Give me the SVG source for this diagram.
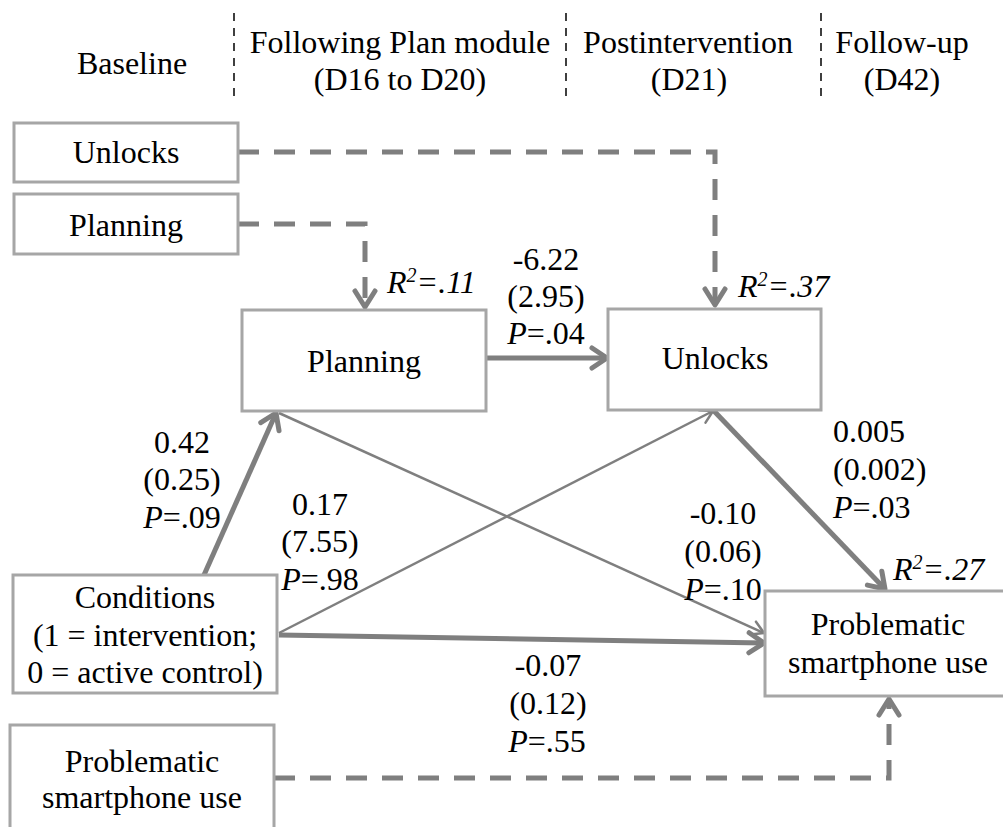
<svg xmlns="http://www.w3.org/2000/svg" width="1003" height="827" viewBox="0 0 1003 827">
  <defs>
    <marker id="ahThick" viewBox="-20 -14 24 28" markerWidth="24" markerHeight="28" refX="0" refY="0" orient="auto" markerUnits="userSpaceOnUse">
      <path d="M-15,-10 L0,0 L-15,10" fill="none" stroke="#7f7f7f" stroke-width="5" stroke-linejoin="round" stroke-linecap="round"/>
    </marker>
    <marker id="ahThin" viewBox="-16 -10 20 20" markerWidth="20" markerHeight="20" refX="0" refY="0" orient="auto" markerUnits="userSpaceOnUse">
      <path d="M-12,-7 L0,0 L-12,7" fill="none" stroke="#7f7f7f" stroke-width="2.5" stroke-linejoin="round" stroke-linecap="round"/>
    </marker>
    <marker id="ahDash" viewBox="-22 -15 26 30" markerWidth="26" markerHeight="30" refX="0" refY="0" orient="auto" markerUnits="userSpaceOnUse">
      <path d="M-16,-10 L0,0 L-16,10" fill="none" stroke="#7f7f7f" stroke-width="5" stroke-linejoin="round" stroke-linecap="round"/>
    </marker>
  </defs>

  <g id="header">
    <g stroke="#111" stroke-width="1.6" stroke-dasharray="8 7" fill="none">
      <line x1="234" y1="13" x2="234" y2="98"/>
      <line x1="566" y1="13" x2="566" y2="98"/>
      <line x1="821" y1="13" x2="821" y2="98"/>
    </g>
    <text x="132" y="74" text-anchor="middle" font-family="Liberation Serif" font-size="32">Baseline</text>
    <text x="400" y="53" text-anchor="middle" font-family="Liberation Serif" font-size="32">Following Plan module</text>
    <text x="400" y="90" text-anchor="middle" font-family="Liberation Serif" font-size="32">(D16 to D20)</text>
    <text x="688" y="53" text-anchor="middle" font-family="Liberation Serif" font-size="32">Postintervention</text>
    <text x="689" y="90" text-anchor="middle" font-family="Liberation Serif" font-size="32">(D21)</text>
    <text x="902" y="53" text-anchor="middle" font-family="Liberation Serif" font-size="32">Follow-up</text>
    <text x="902" y="90" text-anchor="middle" font-family="Liberation Serif" font-size="32">(D42)</text>
  </g>

  <g id="connectors" fill="none" stroke="#7f7f7f">
    <path stroke-width="5" stroke-dasharray="21 15" d="M238,152 H715 V305" marker-end="url(#ahDash)"/>
    <path stroke-width="5" stroke-dasharray="21 15" d="M238,224 H365 V307" marker-end="url(#ahDash)"/>
    <path stroke-width="5" stroke-dasharray="21 15" d="M274,778 H889 V699" marker-end="url(#ahDash)"/>
    <path stroke-width="5" d="M486,358 L607,358" marker-end="url(#ahThick)"/>
    <path stroke-width="5" d="M204,575 L276,413" marker-end="url(#ahThick)"/>
    <path stroke-width="2.5" d="M279,413 L764,633" marker-end="url(#ahThin)"/>
    <path stroke-width="2.5" d="M279,633 L713,411" marker-end="url(#ahThin)"/>
    <path stroke-width="5" d="M279,635 L764,643" marker-end="url(#ahThick)"/>
    <path stroke-width="5" d="M714,411 L885,589" marker-end="url(#ahThick)"/>
  </g>

  <g id="node-unlocks-baseline">
    <rect x="14" y="123" width="224" height="59" fill="#fff" stroke="#a6a6a6" stroke-width="3"/>
    <text x="126" y="163" text-anchor="middle" font-family="Liberation Serif" font-size="32">Unlocks</text>
  </g>
  <g id="node-planning-baseline">
    <rect x="14" y="194" width="224" height="60" fill="#fff" stroke="#a6a6a6" stroke-width="3"/>
    <text x="126" y="236" text-anchor="middle" font-family="Liberation Serif" font-size="32">Planning</text>
  </g>
  <g id="node-planning">
    <rect x="242" y="310" width="244" height="101" fill="#fff" stroke="#a6a6a6" stroke-width="3"/>
    <text x="364" y="372" text-anchor="middle" font-family="Liberation Serif" font-size="32">Planning</text>
  </g>
  <g id="node-unlocks">
    <rect x="608" y="309" width="213" height="101" fill="#fff" stroke="#a6a6a6" stroke-width="3"/>
    <text x="715" y="369" text-anchor="middle" font-family="Liberation Serif" font-size="32">Unlocks</text>
  </g>
  <g id="node-conditions">
    <rect x="13" y="575" width="264" height="118" fill="#fff" stroke="#a6a6a6" stroke-width="3"/>
    <text x="145" y="608" text-anchor="middle" font-family="Liberation Serif" font-size="32">Conditions</text>
    <text x="145" y="646" text-anchor="middle" font-family="Liberation Serif" font-size="32">(1 = intervention;</text>
    <text x="145" y="683" text-anchor="middle" font-family="Liberation Serif" font-size="32">0 = active control)</text>
  </g>
  <g id="node-psu-outcome">
    <rect x="765" y="591" width="246" height="105" fill="#fff" stroke="#a6a6a6" stroke-width="3"/>
    <text x="888" y="635" text-anchor="middle" font-family="Liberation Serif" font-size="32">Problematic</text>
    <text x="888" y="673" text-anchor="middle" font-family="Liberation Serif" font-size="32">smartphone use</text>
  </g>
  <g id="node-psu-baseline">
    <rect x="10" y="725" width="264" height="120" fill="#fff" stroke="#a6a6a6" stroke-width="3"/>
    <text x="142" y="772" text-anchor="middle" font-family="Liberation Serif" font-size="32">Problematic</text>
    <text x="142" y="808" text-anchor="middle" font-family="Liberation Serif" font-size="32">smartphone use</text>
  </g>

  <g id="labels">
    <text x="387" y="293" font-style="italic" font-family="Liberation Serif" font-size="32">R<tspan font-size="20" dy="-11">2</tspan><tspan dy="11">=.11</tspan></text>
    <text x="738" y="297" font-style="italic" font-family="Liberation Serif" font-size="32">R<tspan font-size="20" dy="-11">2</tspan><tspan dy="11">=.37</tspan></text>
    <text x="893" y="580" font-style="italic" font-family="Liberation Serif" font-size="32">R<tspan font-size="20" dy="-11">2</tspan><tspan dy="11">=.27</tspan></text>

    <text x="546" y="270" text-anchor="middle" font-family="Liberation Serif" font-size="32">-6.22</text>
    <text x="546" y="307" text-anchor="middle" font-family="Liberation Serif" font-size="32">(2.95)</text>
    <text x="546" y="344" text-anchor="middle" font-family="Liberation Serif" font-size="32"><tspan font-style="italic">P</tspan>=.04</text>

    <text x="182" y="453" text-anchor="middle" font-family="Liberation Serif" font-size="32">0.42</text>
    <text x="182" y="490" text-anchor="middle" font-family="Liberation Serif" font-size="32">(0.25)</text>
    <text x="182" y="528" text-anchor="middle" font-family="Liberation Serif" font-size="32"><tspan font-style="italic">P</tspan>=.09</text>

    <text x="320" y="515" text-anchor="middle" font-family="Liberation Serif" font-size="32">0.17</text>
    <text x="320" y="552" text-anchor="middle" font-family="Liberation Serif" font-size="32">(7.55)</text>
    <text x="320" y="590" text-anchor="middle" font-family="Liberation Serif" font-size="32"><tspan font-style="italic">P</tspan>=.98</text>

    <text x="833" y="442" font-family="Liberation Serif" font-size="32">0.005</text>
    <text x="833" y="480" font-family="Liberation Serif" font-size="32">(0.002)</text>
    <text x="833" y="518" font-family="Liberation Serif" font-size="32"><tspan font-style="italic">P</tspan>=.03</text>

    <text x="723" y="524" text-anchor="middle" font-family="Liberation Serif" font-size="32">-0.10</text>
    <text x="723" y="562" text-anchor="middle" font-family="Liberation Serif" font-size="32">(0.06)</text>
    <text x="723" y="600" text-anchor="middle" font-family="Liberation Serif" font-size="32"><tspan font-style="italic">P</tspan>=.10</text>

    <text x="548" y="676" text-anchor="middle" font-family="Liberation Serif" font-size="32">-0.07</text>
    <text x="548" y="714" text-anchor="middle" font-family="Liberation Serif" font-size="32">(0.12)</text>
    <text x="547" y="752" text-anchor="middle" font-family="Liberation Serif" font-size="32"><tspan font-style="italic">P</tspan>=.55</text>
  </g>
</svg>
